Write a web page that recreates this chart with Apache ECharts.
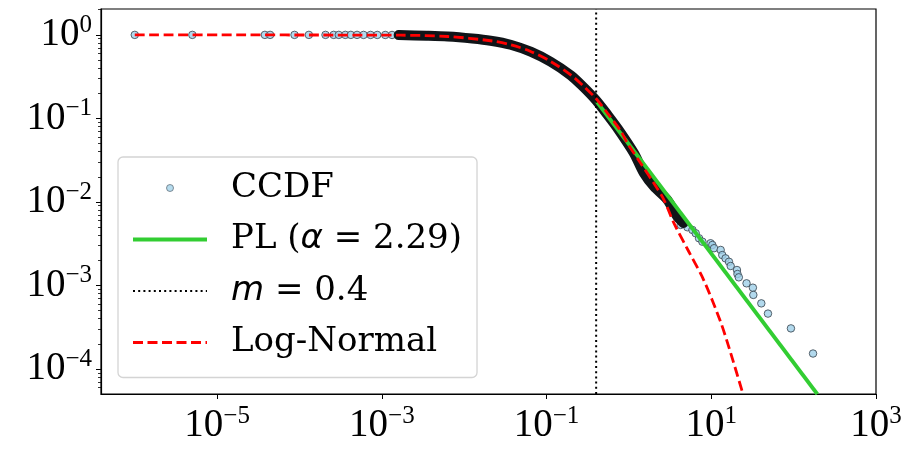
<!DOCTYPE html>
<html lang="en">
<head>
<meta charset="UTF-8">
<style>
  html, body { margin: 0; padding: 0; background: #fff; }
  #chart { width: 914px; height: 450px; }
</style>
</head>
<body>
<div id="chart"></div>
<script src="https://cdn.jsdelivr.net/npm/echarts@6/dist/echarts.min.js"></script>
<script>
// CCDF markers that are still visible one by one (flat head and the tail)
const ccdfX = [1.0e-6, 5.0e-6, 3.8e-5, 4.4e-5, 8.7e-5, 1.3e-4, 2.07e-4, 2.6e-4, 3.0e-4, 3.6e-4,
  4.2e-4, 5.0e-4, 6.0e-4, 7.3e-4, 8.8e-4, 1.1e-3, 1.33e-3,
  4.25, 5.13, 5.9, 6.47, 7.1, 7.8, 9.8, 10.3, 10.8, 13.0, 13.6, 14.9, 16.4, 17.2, 20.5, 20.8,
  21.6, 26.8, 32.0, 32.4, 40.5, 48.8, 92.7, 172];
const ccdfY = [1.0, 1.0, 1.0, 1.0, 1.0, 1.0, 1.0, 1.0, 1.0, 1.0,
  1.0, 1.0, 0.9995, 0.999, 0.999, 0.998, 0.998,
  5.3e-3, 4.97e-3, 4.62e-3, 4.21e-3, 3.67e-3, 3.34e-3, 3.2e-3, 3.05e-3, 2.79e-3, 2.66e-3, 2.31e-3, 2.11e-3, 1.92e-3, 1.71e-3, 1.53e-3, 1.37e-3,
  1.25e-3, 1.06e-3, 9.4e-4, 7.7e-4, 6.1e-4, 4.6e-4, 3.06e-4, 1.53e-4];

// dense middle of the CCDF: thousands of overlapping markers read as one dark band
const bandX = [1.6e-3, 3.5e-3, 6.3e-3, 0.0125, 0.0209, 0.0366, 0.064, 0.112, 0.196, 0.282,
  0.394, 0.551, 0.75, 1.15, 1.52, 2.01, 2.92, 3.87, 4.6];
const bandY = [0.995, 0.978, 0.957, 0.905, 0.852, 0.763, 0.629, 0.477, 0.329, 0.236,
  0.167, 0.110, 0.073, 0.0384, 0.0221, 0.0153, 0.0106, 6.67e-3, 5.6e-3];

// power-law fit, from x_min = m to the lower edge
const plX = [0.4, 194];
const plY = [0.162, 5.0e-5];
const mValue = 0.4;

// log-normal fit
const lnX = [1e-6, 1.68e-3, 6.27e-3, 0.0209, 0.0366, 0.064, 0.112, 0.196, 0.284, 0.394, 0.547,
  0.793, 0.957, 1.39, 2.01, 2.66, 3.52, 5.13, 8.09, 13.0, 17.2, 23.9];
const lnY = [1.0, 0.991, 0.957, 0.851, 0.762, 0.634, 0.481, 0.333, 0.241, 0.175, 0.116,
  0.071, 0.0506, 0.0291, 0.0167, 0.0106, 5.56e-3, 2.73e-3, 1.16e-3, 3.64e-4, 1.55e-4, 5.27e-5];

// axes (exponents of 10)
const xTicks = [-5, -3, -1, 1, 3];
const yTicks = [0, -1, -2, -3, -4];
const xRange = [-6.41, 3.0];
const yRange = [-4.30, 0.31];

const toLog = (xs, ys) => xs.map((x, i) => [Math.log10(x), Math.log10(ys[i])]);

let yMinor = [];
for (let n = -5; n <= 0; n++) {
  for (let k = 2; k <= 9; k++) {
    const v = n + Math.log10(k);
    if (v > yRange[0] && v < yRange[1]) yMinor.push(v);
  }
}

const sup = v => {
  v = Math.round(v);
  return v < 0 ? '\u2212' + Math.abs(v) : String(v);
};
const powLabel = v => '{b|10}{s|' + sup(v) + '}';
const tickRich = {
  b: { fontFamily: 'Liberation Serif', fontSize: 39, lineHeight: 44, color: '#000' },
  s: { fontFamily: 'Liberation Serif', fontSize: 25, lineHeight: 32, verticalAlign: 'top', color: '#000' }
};

const legendText = {
  'CCDF': 'CCDF',
  'PL': 'PL ({a|\u03b1} = 2.29)',
  'm': '{a|m} = 0.4',
  'LogNormal': 'Log-Normal'
};
const noMark = { opacity: 0 };

const chart = echarts.init(document.getElementById('chart'), null, { renderer: 'canvas' });

chart.setOption({
  animation: false,
  grid: {
    left: 101, right: 38, top: 9, bottom: 56,
    show: true, borderColor: '#000', borderWidth: 1.2, backgroundColor: 'transparent'
  },
  xAxis: {
    type: 'value', min: xRange[0], max: xRange[1],
    splitLine: { show: false },
    axisLine: { show: true, onZero: false, lineStyle: { color: '#000', width: 1.2 } },
    axisTick: { show: true, length: 5, customValues: xTicks, lineStyle: { color: '#000', width: 1 } },
    axisLabel: { customValues: xTicks, margin: 10, formatter: powLabel, rich: tickRich }
  },
  yAxis: [{
    type: 'value', min: yRange[0], max: yRange[1],
    splitLine: { show: false },
    axisLine: { show: true, onZero: false, lineStyle: { color: '#000', width: 1.2 } },
    axisTick: { show: true, length: 5, customValues: yTicks, lineStyle: { color: '#000', width: 1 } },
    axisLabel: { customValues: yTicks, margin: 9, formatter: powLabel, rich: tickRich }
  }, {
    type: 'value', min: yRange[0], max: yRange[1], position: 'left',
    splitLine: { show: false },
    axisLine: { show: false, onZero: false },
    axisLabel: { show: false },
    axisTick: { show: true, length: 3, customValues: yMinor, lineStyle: { color: '#000', width: 0.8 } }
  }],
  legend: {
    orient: 'vertical', left: 118, top: 157,
    padding: [11, 15, 15, 13],
    itemWidth: 74, itemHeight: 7, itemGap: 11.5,
    selectedMode: false,
    backgroundColor: 'rgba(255,255,255,0.8)',
    borderColor: '#d4d4d4', borderWidth: 1.3, borderRadius: 5,
    data: [
      { name: 'CCDF', itemStyle: { color: '#a4d3ea', borderColor: '#4a5560', borderWidth: 0.8 } },
      { name: 'PL', itemStyle: noMark, lineStyle: { color: '#32cd32', width: 4, type: 'solid' } },
      { name: 'm', itemStyle: noMark, lineStyle: { color: '#000', width: 2, type: [2, 3.2] } },
      { name: 'LogNormal', itemStyle: noMark, lineStyle: { color: '#ff0000', width: 2.8, type: [10, 4.5] } }
    ],
    formatter: name => legendText[name],
    textStyle: {
      fontFamily: 'DejaVu Serif', fontSize: 34, lineHeight: 40, color: '#000',
      padding: [0, 0, 0, 19],
      rich: {
        a: { fontFamily: 'DejaVu Sans', fontStyle: 'italic', fontSize: 34, lineHeight: 40, color: '#000' }
      }
    }
  },
  series: [
    {
      name: 'CCDF band', type: 'line', data: toLog(bandX, bandY),
      smooth: 0.3, symbol: 'none', silent: true,
      lineStyle: { color: '#101418', width: 10, cap: 'round', join: 'round' }
    },
    {
      name: 'CCDF', type: 'scatter', data: toLog(ccdfX, ccdfY),
      symbol: 'circle', symbolSize: 7.5,
      itemStyle: { color: '#9fd0e9', borderColor: '#35404a', borderWidth: 1 }
    },
    {
      name: 'PL', type: 'line', data: toLog(plX, plY),
      symbol: 'none',
      lineStyle: { color: '#32cd32', width: 4 }
    },
    {
      name: 'm', type: 'line',
      data: [[Math.log10(mValue), yRange[0]], [Math.log10(mValue), yRange[1]]],
      symbol: 'none',
      lineStyle: { color: '#000', width: 2, type: [2, 3.2] }
    },
    {
      name: 'LogNormal', type: 'line', data: toLog(lnX, lnY),
      smooth: 0.3, symbol: 'none',
      lineStyle: { color: '#ff0000', width: 2.8, type: [10, 4.5] }
    }
  ]
});
</script>
</body>
</html>
